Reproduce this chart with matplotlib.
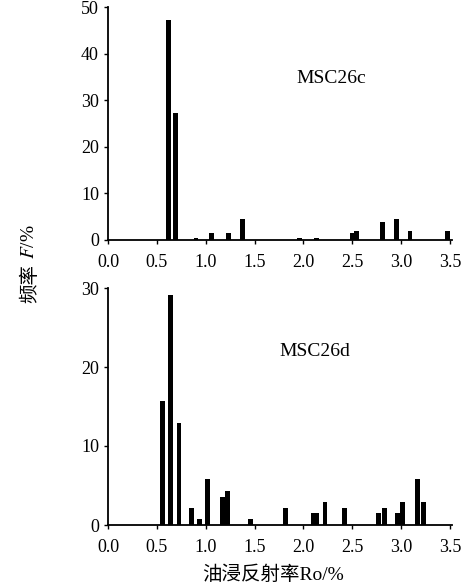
import matplotlib.pyplot as plt

plt.rcParams['font.family'] = ['Liberation Serif', 'Noto Sans CJK SC']
plt.rcParams['mathtext.fontset'] = 'stix'

# MSC26c
c_ro = [0.62, 0.69, 0.90, 1.06, 1.23, 1.38, 1.96, 2.13, 2.50, 2.54, 2.81, 2.95, 3.09, 3.47]
c_freq = [47.3, 27.3, 0.4, 1.4, 1.4, 4.4, 0.4, 0.4, 1.4, 1.9, 3.9, 4.4, 1.9, 1.9]

# MSC26d
d_ro = [0.555, 0.637, 0.726, 0.856, 0.94, 1.02, 1.17, 1.22, 1.46, 1.82, 2.10, 2.13,
        2.22, 2.42, 2.77, 2.83, 2.96, 3.01, 3.17, 3.23]
d_freq = [15.7, 29.1, 12.9, 2.2, 0.8, 5.8, 3.6, 4.3, 0.8, 2.2, 1.5, 1.5,
          2.9, 2.2, 1.5, 2.2, 1.5, 2.9, 5.8, 2.9]

xticks = [0.0, 0.5, 1.0, 1.5, 2.0, 2.5, 3.0, 3.5]

W, H = 466, 587
fig = plt.figure(figsize=(W / 100, H / 100), dpi=100)
ax1 = fig.add_axes([108 / W, 1 - 240 / H, 344 / W, 233 / H])
ax2 = fig.add_axes([108 / W, 1 - 525 / H, 344 / W, 237 / H])


def style_ax(ax, ymax, ystep):
    ax.set_xlim(0, 3.52)
    ax.set_ylim(0, ymax)
    for s in ['top', 'right']:
        ax.spines[s].set_visible(False)
    for s in ['left', 'bottom']:
        ax.spines[s].set_linewidth(1.3)
    ax.set_xticks(xticks)
    ax.set_xticklabels(['%.1f' % t for t in xticks])
    ax.set_yticks(range(0, ymax + 1, ystep))
    ax.tick_params(axis='both', labelsize=13, width=1, length=3, direction='out')
    ax.tick_params(axis='x', pad=7)


ax1.bar(c_ro, c_freq, width=0.05, color='black')
style_ax(ax1, 50, 10)
ax1.text(2.28, 34.6, 'MSC26c', fontsize=14, ha='center', va='center')

ax2.bar(d_ro, d_freq, width=0.05, color='black')
style_ax(ax2, 30, 10)
ax2.text(2.12, 21.9, 'MSC26d', fontsize=14, ha='center', va='center')

# y label: 频率F/%
fig.text(30 / W, 1 - 284 / H, '频率', rotation=90, fontsize=14,
         ha='center', va='center', family=['Noto Sans CJK SC'])
fig.text(30 / W, 1 - 242 / H, '$F$/%', rotation=90, fontsize=14,
         ha='center', va='center')

fig.text(273 / W, 1 - 575 / H, '油浸反射率Ro/%', fontsize=14,
         ha='center', va='center')

fig.savefig('out.png', dpi=100)
